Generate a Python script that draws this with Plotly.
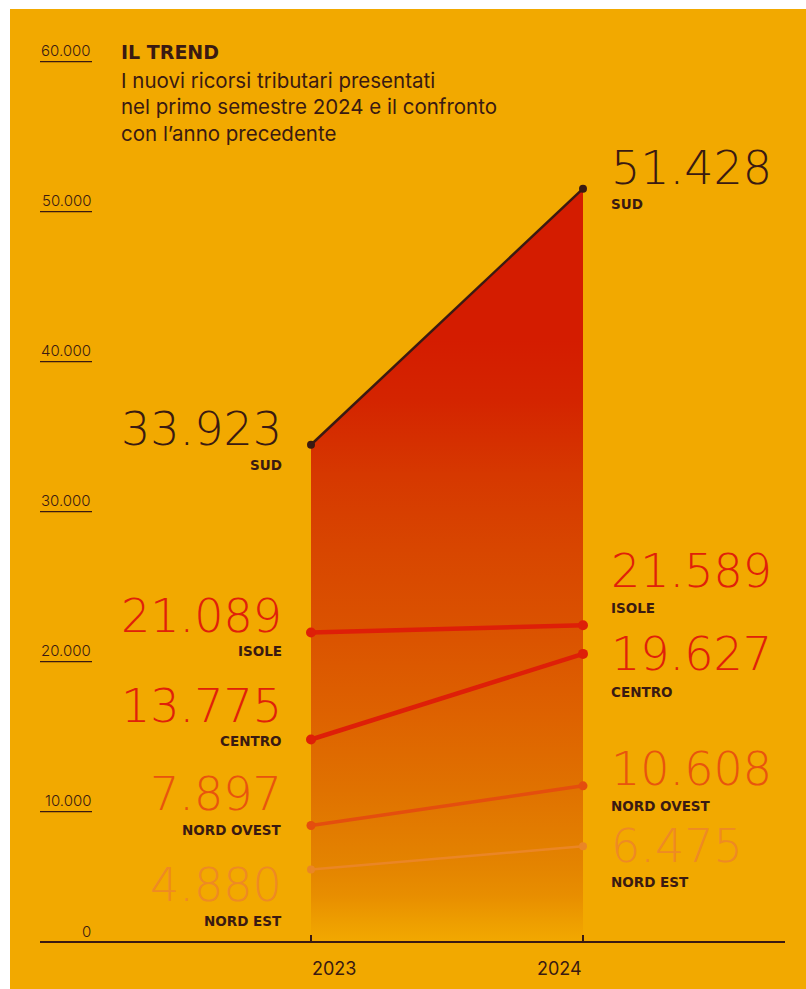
import plotly.graph_objects as go

# ---------------- data ----------------
years = [2023, 2024]
regions = ["SUD", "ISOLE", "CENTRO", "NORD OVEST", "NORD EST"]
values = {
    "SUD": [33923, 51428],
    "ISOLE": [21089, 21589],
    "CENTRO": [13775, 19627],
    "NORD OVEST": [7897, 10608],
    "NORD EST": [4880, 6475],
}
y_ticks = [0, 10000, 20000, 30000, 40000, 50000, 60000]
y_tick_labels = ["0", "10.000", "20.000", "30.000", "40.000", "50.000", "60.000"]
title = "IL TREND"
subtitle_lines = [
    "I nuovi ricorsi tributari presentati",
    "nel primo semestre 2024 e il confronto",
    "con l\u2019anno precedente",
]

# ---------------- styles ----------------
W, H = 806, 989
L, R, T, B = 40, 21, 34, 48
PW, PH = W - L - R, H - T - B
BG = "#F2A900"
DARK = "#3A1A12"
FONT = "Inter"
NUMFONT = "DejaVu Sans"

line_style = {
    "SUD": dict(color=DARK, width=2.5, msize=8),
    "ISOLE": dict(color="#DE1F08", width=4.5, msize=10),
    "CENTRO": dict(color="#DE1F08", width=4.5, msize=10),
    "NORD OVEST": dict(color="#E44E0E", width=3.5, msize=9),
    "NORD EST": dict(color="#EA8626", width=2.5, msize=8),
}
num_color = {
    "SUD": DARK,
    "ISOLE": "#E0200A",
    "CENTRO": "#E0200A",
    "NORD OVEST": "#E8540E",
    "NORD EST": "#EE8A24",
}
# pixel offsets of (number, label) relative to the data point: left (2023) and right (2024)
left_off = {
    "SUD": (16, -20), "ISOLE": (16, -19), "CENTRO": (33, -2),
    "NORD OVEST": (31, -5), "NORD EST": (-15, -51),
}
right_off = {
    "SUD": (21, -15), "ISOLE": (54, 17), "CENTRO": (0, -38),
    "NORD OVEST": (17, -20), "NORD EST": (0, -36),
}

def fmt(v):
    return f"{v:,}".replace(",", ".")

def px_x(px):
    return (px - L) / PW

def px_y(py):
    return (H - B - py) / PH

x_range = [2023 - 271 / 272, 2023 + (PW - 271) / 272]
y_range = [0, 62000]
# scale used by the printed tick labels (10.000 steps every 150 px, 60.000 at px 61.7)
tick_px_per_unit = 150 / 10000
y2_range = [60000 - (H - B - 61.7) / tick_px_per_unit, 60000 + (61.7 - T) / tick_px_per_unit]

fig = go.Figure()

sud_max = max(values["SUD"])
grad = [
    (0.00, "#F2A800"), (0.03, "#ED9C00"), (0.06, "#E88E00"), (0.10, "#E48400"),
    (0.20, "#E07200"), (0.30, "#DE6200"), (0.40, "#DB5400"), (0.52, "#D84600"),
    (0.62, "#D63800"), (0.72, "#D42400"), (0.80, "#D41C00"), (1.00, "#D41C00"),
]

for r in regions:
    st = line_style[r]
    kw = {}
    if r == "SUD":
        kw = dict(
            fill="tozeroy",
            fillgradient=dict(type="vertical", colorscale=[[a, c] for a, c in grad],
                              start=0, stop=sud_max),
        )
    fig.add_trace(go.Scatter(
        x=years, y=values[r], mode="lines+markers", name=r,
        line=dict(color=st["color"], width=st["width"]),
        marker=dict(color=st["color"], size=st["msize"]),
        hoverinfo="skip", showlegend=False, **kw,
    ))

ann = []
big = dict(family=NUMFONT, size=46, weight=200)
lab = dict(family=NUMFONT, size=13.5, color=DARK, weight=700)
for r in regions:
    for i, (xa, xs, offs) in enumerate([("right", -27, left_off), ("left", 26, right_off)]):
        v = values[r][i]
        n_off, l_off = offs[r]
        ann.append(dict(x=years[i], y=v, xref="x", yref="y", text=fmt(v), showarrow=False,
                        xanchor=xa, yanchor="middle", xshift=xs, yshift=n_off,
                        font=dict(color=num_color[r], **big)))
        ann.append(dict(x=years[i], y=v, xref="x", yref="y", text=r, showarrow=False,
                        xanchor=xa, yanchor="middle", xshift=xs, yshift=l_off,
                        font=lab))

# x labels: first left-aligned on its tick, last right-aligned on its tick
for i, yv in enumerate(years):
    ann.append(dict(x=yv, y=px_y(968), xref="x", yref="paper", text=str(yv), showarrow=False,
                    xanchor="left" if i == 0 else "right", yanchor="middle",
                    xshift=-1 if i == 0 else 1,
                    font=dict(family=FONT, size=18, color=DARK)))

# y tick labels with underline
shapes = [dict(type="rect", xref="paper", yref="paper",
               x0=px_x(10), x1=px_x(W), y0=px_y(H), y1=px_y(9),
               fillcolor=BG, line=dict(width=0), layer="below")]
tickfont = dict(family=FONT, size=15, color=DARK, weight=300)
for v, t in zip(y_ticks, y_tick_labels):
    if v == 0:
        ann.append(dict(x=px_x(93), y=0, xref="paper", yref="y", text=t, showarrow=False,
                        xanchor="right", yanchor="middle", yshift=10, font=tickfont))
        continue
    ann.append(dict(x=px_x(93), y=v, xref="paper", yref="y2", text=t, showarrow=False,
                    xanchor="right", yanchor="bottom", yshift=0, font=tickfont))
    shapes.append(dict(type="line", xref="paper", yref="y2", x0=px_x(40), x1=px_x(92),
                       y0=v, y1=v, line=dict(color=DARK, width=1.2)))

# title
ann.append(dict(x=px_x(119), y=px_y(52), xref="paper", yref="paper", text=title,
                showarrow=False, xanchor="left", yanchor="middle",
                font=dict(family=NUMFONT, size=19, color=DARK, weight=700)))
for k, line in enumerate(subtitle_lines):
    ann.append(dict(x=px_x(119), y=px_y(81 + 26 * k), xref="paper", yref="paper", text=line,
                    showarrow=False, xanchor="left", yanchor="middle",
                    font=dict(family=FONT, size=20.5, color=DARK)))

fig.update_layout(
    width=W, height=H, margin=dict(l=L, r=R, t=T, b=B, pad=0),
    paper_bgcolor="white", plot_bgcolor="rgba(0,0,0,0)",
    annotations=ann, shapes=shapes, showlegend=False,
    xaxis=dict(range=x_range, tickvals=years, showticklabels=False,
               showgrid=False, zeroline=False, showline=True, linecolor=DARK, linewidth=2,
               ticks="inside", ticklen=6, tickwidth=1.5, tickcolor=DARK, fixedrange=True),
    yaxis=dict(range=y_range, showgrid=False, zeroline=False, showline=False,
               showticklabels=False, ticks="", fixedrange=True),
    yaxis2=dict(range=y2_range, overlaying="y", showgrid=False, zeroline=False,
                showline=False, showticklabels=False, ticks="", fixedrange=True),
)

fig.write_html("out.html", config={"displayModeBar": False})
